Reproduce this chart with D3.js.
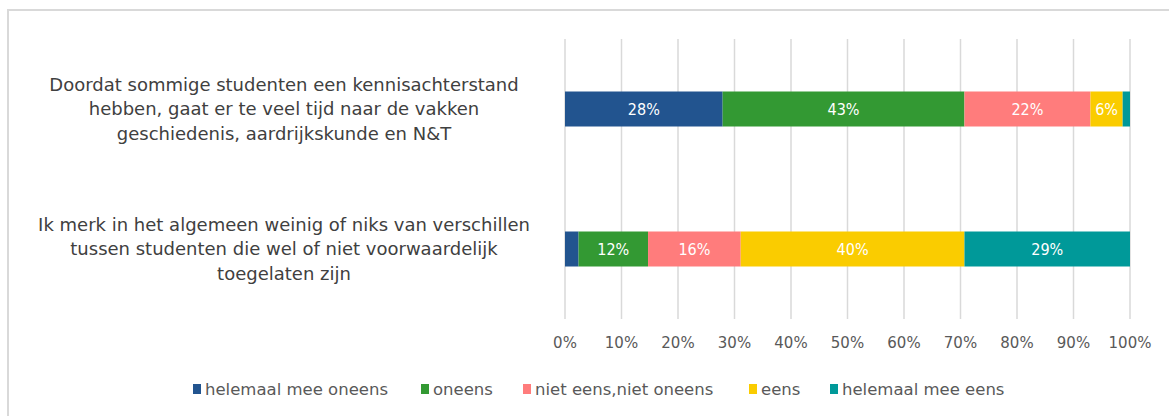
<!DOCTYPE html>
<html>
<head>
<meta charset="utf-8">
<script src="https://cdn.jsdelivr.net/npm/d3@7"></script>
<style>
  body { margin: 0; background: #fff; overflow: hidden; }
  svg text { font-family: "DejaVu Sans", sans-serif; }
</style>
</head>
<body>
<svg id="chart" width="1169" height="416"></svg>
<script>
// data
const statements = [
    ["Doordat sommige studenten een kennisachterstand", "hebben, gaat er te veel tijd naar de vakken", "geschiedenis, aardrijkskunde en N&T"],
    ["Ik merk in het algemeen weinig of niks van verschillen", "tussen studenten die wel of niet voorwaardelijk", "toegelaten zijn"]
];
const answers = ["helemaal mee oneens", "oneens", "niet eens,niet oneens", "eens", "helemaal mee eens"];
const colors = ["#22548f", "#339933", "#ff7c7c", "#facc00", "#009999"];
const values = [
    [27.9, 42.8, 22.3, 5.7, 1.3],
    [2.4, 12.3, 16.4, 39.6, 29.3]
];
const ticks = [0, 10, 20, 30, 40, 50, 60, 70, 80, 90, 100];

const svg = d3.select("#chart");

// outer frame (right / bottom edges fall outside the picture)
svg.append("rect").attr("x", 8).attr("y", 10).attr("width", 1220).attr("height", 440)
    .attr("fill", "none").attr("stroke", "#d9d9d9").attr("stroke-width", 2);

const x = d3.scaleLinear().domain([0, 100]).range([565, 1130]);
const y = d3.scaleBand().domain([0, 1]).range([39, 319]).paddingInner(0.75).paddingOuter(0.375);

// gridlines
svg.append("g").selectAll("line").data(ticks).join("line")
    .attr("x1", d => x(d)).attr("x2", d => x(d))
    .attr("y1", 39).attr("y2", 319)
    .attr("stroke", "#d9d9d9").attr("stroke-width", 1.5);

// tick labels
svg.append("g").selectAll("text").data(ticks).join("text")
    .attr("x", d => x(d)).attr("y", 348)
    .attr("text-anchor", "middle")
    .attr("font-size", 15).attr("fill", "#595959")
    .text(d => d + "%");

// stacked bars
values.forEach((row, i) => {
    let acc = 0;
    const segs = row.map((v, k) => {
        const s = { start: acc, v: v, k: k };
        acc += v;
        return s;
    });
    const g = svg.append("g");
    g.selectAll("rect").data(segs).join("rect")
        .attr("x", d => x(d.start))
        .attr("y", y(i))
        .attr("width", d => x(d.start + d.v) - x(d.start))
        .attr("height", y.bandwidth())
        .attr("fill", d => colors[d.k]);
    g.selectAll("text").data(segs.filter(d => d.v >= 4)).join("text")
        .attr("x", d => x(d.start + d.v / 2))
        .attr("y", y(i) + y.bandwidth() / 2 + 6)
        .attr("text-anchor", "middle")
        .attr("font-size", 16)
        .attr("fill", "#fff")
        .style("font-family", "'DejaVu Sans Condensed', sans-serif")
        .text(d => Math.round(d.v) + "%");

    // category label
    const lab = svg.append("text")
        .attr("text-anchor", "middle")
        .attr("font-size", 18)
        .attr("fill", "#404040");
    statements[i].forEach((line, j) => {
        lab.append("tspan").attr("x", 284)
            .attr("y", y(i) + y.bandwidth() / 2 + 6 + (j - 1) * 24.5)
            .text(line);
    });
});

// legend
const legendX = [193, 421, 523, 749, 830];
const legend = svg.append("g").selectAll("g").data(answers).join("g")
    .attr("transform", (d, i) => `translate(${legendX[i]},384)`);
legend.append("rect").attr("width", 8).attr("height", 10).attr("fill", (d, i) => colors[i]);
legend.append("text").attr("x", 12).attr("y", 10.5)
    .attr("font-size", 16.5).attr("fill", "#595959")
    .text(d => d);
</script>
</body>
</html>
